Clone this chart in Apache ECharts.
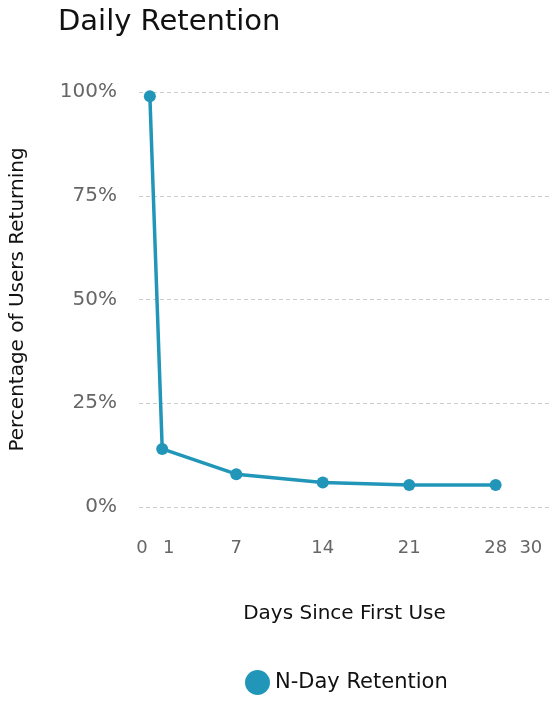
<!DOCTYPE html>
<html>
<head>
<meta charset="utf-8">
<script src="https://cdn.jsdelivr.net/npm/echarts@6/dist/echarts.min.js"></script>
<style>
html,body{margin:0;padding:0;background:#fff;}
#chart{width:560px;height:712px;}
</style>
</head>
<body>
<div id="chart"></div>
<script>
const days = [0, 1, 7, 14, 21, 28];
const retention = [99.0, 14.0, 7.9, 5.9, 5.3, 5.3];
const xTickLabels = [0, 1, 7, 14, 21, 28, 30];
const seriesName = 'N-Day Retention';

const FONT = 'DejaVu Sans';
// label nudges so crowded tick labels sit apart (style only)
const labelRich = {
  l: {padding: [0, 16, 0, 0], fontFamily: FONT, fontSize: 18, color: '#666'},
  r: {padding: [0, 0, 0, 13], fontFamily: FONT, fontSize: 18, color: '#666'},
  rr: {padding: [0, 0, 0, 21], fontFamily: FONT, fontSize: 18, color: '#666'},
  n: {fontFamily: FONT, fontSize: 18, color: '#666'}
};
const labelStyleFor = {0: 'l', 1: 'r', 30: 'rr'};

const chart = echarts.init(document.getElementById('chart'));
chart.setOption({
  animation: false,
  title: {
    text: 'Daily Retention',
    left: 53, top: 3,
    textStyle: {fontFamily: FONT, fontSize: 29, fontWeight: 'normal', color: '#111'}
  },
  legend: {
    data: [seriesName],
    bottom: 12,
    left: 240,
    itemWidth: 25, itemHeight: 25,
    icon: 'circle',
    textStyle: {fontFamily: FONT, fontSize: 21, color: '#111'}
  },
  grid: {left: 134, right: 10, top: 92, bottom: 205, containLabel: false},
  xAxis: {
    type: 'value',
    min: -0.88, max: 32.4,
    name: 'Days Since First Use',
    nameLocation: 'middle',
    nameGap: 97,
    nameTextStyle: {fontFamily: FONT, fontSize: 20, color: '#111'},
    axisLine: {show: false},
    axisTick: {show: false},
    splitLine: {show: false},
    axisLabel: {
      customValues: xTickLabels,
      margin: 32,
      fontFamily: FONT, fontSize: 18, color: '#666',
      formatter: v => '{' + (labelStyleFor[v] || 'n') + '|' + v + '}',
      rich: labelRich
    }
  },
  yAxis: {
    type: 'value',
    min: 0, max: 100, interval: 25,
    name: 'Percentage of Users Returning',
    nameLocation: 'middle',
    nameGap: 111,
    nameTextStyle: {fontFamily: FONT, fontSize: 20, color: '#111'},
    axisLine: {show: false},
    axisTick: {show: false},
    axisLabel: {
      margin: 22,
      fontFamily: FONT, fontSize: 20, color: '#666',
      formatter: v => v + '%'
    },
    splitLine: {lineStyle: {type: [4, 3], color: '#cccccc', width: 1}}
  },
  series: [{
    name: seriesName,
    type: 'line',
    data: days.map((d, i) => [d, retention[i]]),
    symbol: 'circle',
    symbolSize: 12,
    lineStyle: {width: 3.5, color: '#2196b9'},
    itemStyle: {color: '#2196b9'}
  }]
});
</script>
</body>
</html>
